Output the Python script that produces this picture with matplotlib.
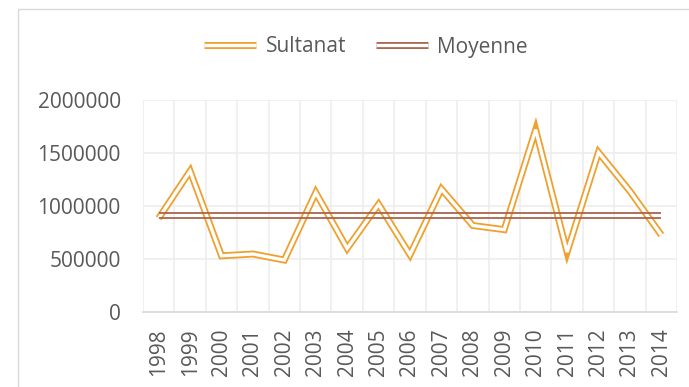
import numpy as np
import matplotlib
matplotlib.use("Agg")
import matplotlib.pyplot as plt
import matplotlib.patheffects as pe
import matplotlib.transforms as mtransforms
from matplotlib.lines import Line2D
from matplotlib.patches import Rectangle

years = ["1998", "1999", "2000", "2001", "2002", "2003", "2004", "2005", "2006",
         "2007", "2008", "2009", "2010", "2011", "2012", "2013", "2014"]
sultanat = [884000, 1330000, 530000, 547000, 490000, 1127000, 600000, 1016000, 540000,
            1160000, 816000, 777000, 1720000, 565000, 1506000, 1140000, 726000]
moyenne = [907000] * len(years)

orange = "#EFA02F"
brown = "#A8654C"
text_col = "#595959"
grid_col = "#EDEDED"

plt.rcParams["font.family"] = ["Open Sans", "DejaVu Sans"]

fig = plt.figure(figsize=(6.89, 3.87), dpi=100)
ax = fig.add_axes([0.2075, 0.1938, 0.9826 - 0.2075, 0.7416 - 0.1938])

# outer chart frame
fig.patches.append(Rectangle((18 / 689, -0.2), 1.2, 1 - 9 / 387 + 0.2,
                             transform=fig.transFigure, fill=False,
                             edgecolor="#D9D9D9", linewidth=1.0, zorder=0))

x = np.arange(len(years))

# compound (double) line: thick stroke with a white core
double = [pe.Normal(), pe.Stroke(linewidth=2.4, foreground="white")]
ax.plot(x, sultanat, color=orange, linewidth=5.0, path_effects=double,
        solid_joinstyle="miter", solid_capstyle="butt", zorder=3)

# average drawn as two thin strands so the gap stays see-through
for dy in (-1.9, 1.9):
    tr = mtransforms.offset_copy(ax.transData, fig=fig, x=0, y=dy, units="points")
    ax.plot(x, moyenne, color=brown, linewidth=1.3, transform=tr,
            solid_capstyle="butt", zorder=4)

ax.set_xlim(-0.5, len(years) - 0.5)
ax.set_ylim(0, 2000000)
ax.set_yticks(np.arange(0, 2000001, 500000))
ax.set_yticklabels([str(v) for v in range(0, 2000001, 500000)])
ax.set_xticks(x)
ax.set_xticklabels(years, rotation=90)
ax.set_xticks(np.arange(-0.5, len(years)), minor=True)

ax.grid(axis="y", color=grid_col, linewidth=1.2, zorder=0)
ax.grid(axis="x", which="minor", color=grid_col, linewidth=1.2, zorder=0)
ax.set_axisbelow(True)
ax.tick_params(axis="both", which="both", length=0, labelsize=15, labelcolor=text_col)
ax.tick_params(axis="y", pad=16)
ax.tick_params(axis="x", pad=12)
for s in ("top", "right", "left"):
    ax.spines[s].set_visible(False)
ax.spines["bottom"].set_color("#D9D9D9")
ax.spines["bottom"].set_linewidth(1.2)

handles = [
    Line2D([], [], color=orange, linewidth=5.0, solid_capstyle="butt",
           path_effects=double),
    Line2D([], [], color=brown, linewidth=5.0, solid_capstyle="butt",
           path_effects=[pe.Normal(), pe.Stroke(linewidth=2.4, foreground="white")]),
]
fig.legend(handles, ["Sultanat", "Moyenne"], loc="center",
           bbox_to_anchor=(366 / 689, 1 - 47 / 387), ncol=2, frameon=False,
           fontsize=15, labelcolor=text_col, handlelength=2.5,
           handletextpad=0.45, columnspacing=1.4)

fig.savefig("out.png", dpi=100)
